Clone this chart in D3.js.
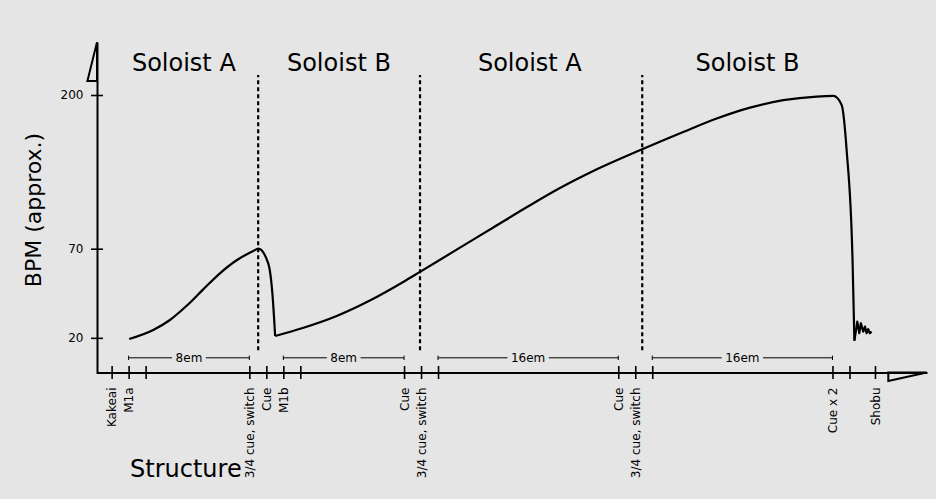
<!DOCTYPE html>
<html>
<head>
<meta charset="utf-8">
<script src="https://cdn.jsdelivr.net/npm/d3@7"></script>
<style>
  body { margin: 0; background: #e5e5e5; }
  svg { display: block; font-family: "DejaVu Sans", sans-serif; }
</style>
</head>
<body>
<div id="chart"></div>
<script>
// structure ticks along the bottom (position in bars, label)
var tickX = [0, 1, 2, 8.1, 9.1, 10.1, 11.1, 17.2, 18.2, 19.2, 29.8, 30.8, 31.8, 42.4, 43.4, 44.9];
var tickLabels = ["Kakeai", "M1a", "", "3/4 cue, switch", "Cue", "M1b", "", "Cue", "3/4 cue, switch", "",
                  "Cue", "3/4 cue, switch", "", "Cue x 2", "", "Shobu"];

// BPM ticks
var bpmTicks = [20, 70, 200];

// tempo curve, three pieces
var riseAX = [1.035, 2.447, 3.429, 4.412, 5.388, 6.371, 7.353, 8.329, 8.624, 9.212, 9.471, 9.618];
var riseAY = [19.35, 24.4, 30.0, 37.97, 47.2, 56.2, 63.5, 68.7, 70, 61.8, 43.1, 21.0];
var riseBX = [9.618, 11.24, 13.24, 15.19, 17.15, 18.14, 20.49, 22.45, 24.41, 26.37, 28.33, 31.21, 33.62,
              35.59, 37.55, 39.51, 41.47, 42.45, 42.94, 43.24, 43.58, 43.69];
var riseBY = [21.0, 25.5, 32.25, 40.9, 51.3, 57.0, 70.9, 87.9, 105.0, 121.3, 135.7, 154.1, 168.7,
              180.1, 189.3, 195.6, 198.7, 199.2, 191.6, 152.1, 63.7, 18.4];
var endX = [43.69, 43.86, 43.98, 44.07, 44.21, 44.31, 44.41, 44.5, 44.6, 44.7];
var endY = [18.4, 29.1, 22.6, 28.2, 23.5, 26.3, 22.6, 24.9, 22.6, 23.5];

// sections
var soloNames = ["Soloist A", "Soloist B", "Soloist A", "Soloist B"];
var soloX = [4.25, 13.37, 24.6, 37.4];
var soloY = 220;
var dividerX = [8.62, 18.14, 31.21];
var dividerY = [13, 217];

// length spans
var spanFrom = [1, 10.1, 19.2, 31.8];
var spanTo = [8.1, 17.2, 29.8, 42.4];
var spanText = ["8em", "8em", "16em", "16em"];
var spanY = 8.8;

var margin = {top: 42, right: 9, bottom: 126.5, left: 97},
    width = 936 - margin.left - margin.right,
    height = 499 - margin.top - margin.bottom;

var svg = d3.select("#chart")
  .append("svg")
    .attr("width", 936)
    .attr("height", 499);

svg.append("rect")
  .attr("width", 936)
  .attr("height", 499)
  .attr("fill", "#e5e5e5");

var plot = svg.append("g")
  .attr("transform", "translate(" + margin.left + "," + margin.top + ")");

var x = d3.scaleLinear()
  .domain([-0.86, 47.96])
  .range([0, width]);

// the BPM axis is not even, so use a piecewise scale
var y = d3.scaleLinear()
  .domain([0, 70, 200, 244.8])
  .range([height + 1, 206.7, 53, 0]);

// x axis
var xAxis = plot.append("g")
  .attr("transform", "translate(0," + height + ")")
  .call(d3.axisBottom(x)
    .tickValues(tickX)
    .tickFormat(function(d) { return tickLabels[tickX.indexOf(d)]; })
    .tickSizeInner(6.5)
    .tickSizeOuter(0));
xAxis.attr("font-family", "DejaVu Sans").attr("font-size", 12);
xAxis.select(".domain").attr("stroke-width", 2);
xAxis.selectAll(".tick line").attr("y1", -6.5).attr("stroke-width", 1.6);
xAxis.selectAll(".tick text")
  .attr("transform", "rotate(-90)")
  .attr("text-anchor", "end")
  .attr("x", -15)
  .attr("y", 0)
  .attr("dy", "0.35em");

// y axis
var yAxis = plot.append("g")
  .call(d3.axisLeft(y)
    .tickValues(bpmTicks)
    .tickSizeInner(6)
    .tickSizeOuter(0)
    .tickPadding(7.5));
yAxis.attr("font-family", "DejaVu Sans").attr("font-size", 12);
yAxis.select(".domain").attr("stroke-width", 2);
yAxis.selectAll(".tick line").attr("x1", 6).attr("stroke-width", 1.6);

// arrow heads
plot.append("path")
  .attr("d", "M0,0.3L-9.6,39L0,39Z")
  .attr("fill", "none")
  .attr("stroke", "black")
  .attr("stroke-width", 2);
plot.append("path")
  .attr("d", "M" + (width - 0.3) + "," + height + "L" + (width - 38.7) + "," + (height + 8.5) + "L" + (width - 38.7) + "," + height + "Z")
  .attr("fill", "none")
  .attr("stroke", "black")
  .attr("stroke-width", 2);

// section dividers
plot.selectAll(".divider")
  .data(dividerX)
  .enter()
  .append("line")
    .attr("class", "divider")
    .attr("x1", d => x(d))
    .attr("x2", d => x(d))
    .attr("y1", y(dividerY[0]))
    .attr("y2", y(dividerY[1]))
    .attr("stroke", "black")
    .attr("stroke-width", 2.2)
    .attr("stroke-dasharray", "4,3");

plot.selectAll(".solo")
  .data(soloNames)
  .enter()
  .append("text")
    .attr("class", "solo")
    .attr("x", (d, i) => x(soloX[i]))
    .attr("y", y(soloY))
    .attr("text-anchor", "middle")
    .style("font-size", "24px")
    .text(d => d);

// length spans
spanText.forEach(function(t, i) {
  var x0 = x(spanFrom[i]), x1 = x(spanTo[i]), yy = y(spanY), xm = (x0 + x1) / 2;
  var g = plot.append("g");
  var label = g.append("text")
    .attr("x", xm)
    .attr("y", yy)
    .attr("dy", "0.35em")
    .attr("text-anchor", "middle")
    .style("font-size", "12px")
    .text(t);
  var half = label.node().getComputedTextLength() / 2 + 3.5;
  g.append("path")
    .attr("d", "M" + x0 + "," + yy + "H" + (xm - half) + "M" + (xm + half) + "," + yy + "H" + x1 +
               "M" + x0 + "," + (yy - 2.2) + "V" + (yy + 2.2) + "M" + x1 + "," + (yy - 2.2) + "V" + (yy + 2.2))
    .attr("fill", "none")
    .attr("stroke", "black")
    .attr("stroke-width", 1);
});

// tempo curve
var smooth = d3.line()
  .x(d => x(d[0]))
  .y(d => y(d[1]))
  .curve(d3.curveMonotoneX);
var straight = d3.line()
  .x(d => x(d[0]))
  .y(d => y(d[1]));

[[riseAX, riseAY, smooth], [riseBX, riseBY, smooth], [endX, endY, straight]].forEach(function(s) {
  plot.append("path")
    .datum(s[0].map((v, i) => [v, s[1][i]]))
    .attr("d", s[2])
    .attr("fill", "none")
    .attr("stroke", "black")
    .attr("stroke-width", 2.2)
    .attr("stroke-linejoin", "round");
});

// axis titles
svg.append("text")
  .attr("x", 130)
  .attr("y", 477)
  .style("font-size", "24px")
  .text("Structure");

svg.append("text")
  .attr("transform", "translate(41,210) rotate(-90)")
  .attr("text-anchor", "middle")
  .style("font-size", "22px")
  .text("BPM (approx.)");
</script>
</body>
</html>
